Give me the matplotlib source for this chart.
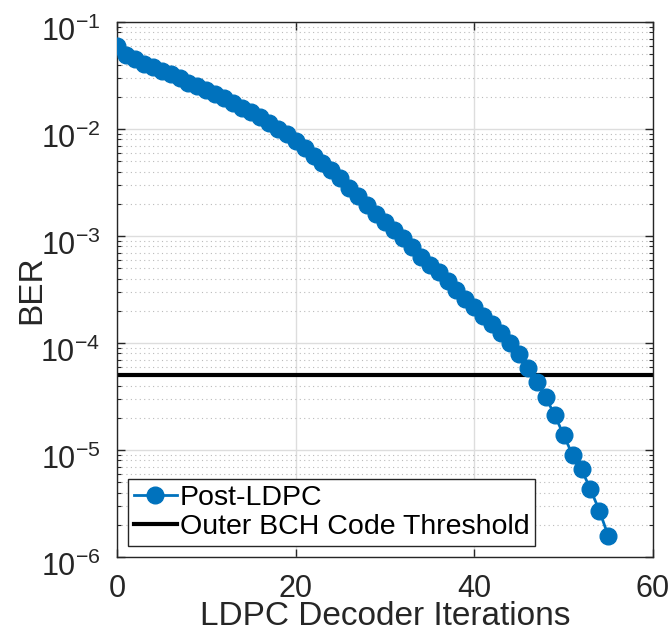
import numpy as np
import matplotlib
matplotlib.use("Agg")
import matplotlib.pyplot as plt
import matplotlib.transforms as mtransforms
from matplotlib.ticker import LogLocator, NullFormatter, MultipleLocator

plt.rcParams['font.family'] = ['Liberation Sans', 'DejaVu Sans']
plt.rcParams['mathtext.fontset'] = 'custom'
plt.rcParams['mathtext.rm'] = 'Liberation Sans'

iterations = list(range(56))
ber_post_ldpc = [
    0.060, 0.049, 0.0448, 0.0405, 0.0378, 0.0351, 0.0324, 0.0298, 0.0271, 0.0252,
    0.0231, 0.0212, 0.0194, 0.0174, 0.0156, 0.0143, 0.0129, 0.0115, 0.0101, 0.0090,
    0.0078, 0.0066, 0.0056, 0.00482, 0.00410, 0.00346, 0.00283, 0.00237, 0.00195, 0.00161,
    0.00136, 0.00114, 0.00095, 0.00079, 0.00064, 0.00054, 0.00046, 0.00038, 0.00031, 0.00026,
    0.000215, 0.000180, 0.000149, 0.000125, 9.9e-5, 7.9e-5, 5.8e-5, 4.35e-5, 3.1e-5, 2.12e-5,
    1.38e-5, 8.98e-6, 6.6e-6, 4.3e-6, 2.71e-6, 1.57e-6,
]
threshold = 5e-5
yticks = [1e-6, 1e-5, 1e-4, 1e-3, 1e-2, 1e-1]
series_label = "Post-LDPC"
threshold_label = "Outer BCH Code Threshold"
xlabel = "LDPC Decoder Iterations"
ylabel = "BER"

fig = plt.figure(figsize=(6.70, 6.43), dpi=100)
ax = fig.add_axes([0.1746, 0.1337, 0.8, 0.8321])

ax.plot(iterations, ber_post_ldpc, '-o', color='#0072BD', lw=2, ms=12,
        markerfacecolor='#0072BD', markeredgecolor='#0072BD', label=series_label, zorder=3)
ax.axhline(threshold, color='black', lw=3, label=threshold_label, zorder=2)

ax.set_yscale('log')
ax.set_xlim(0, 60)
ax.set_ylim(1e-6, 1e-1)
ax.xaxis.set_major_locator(MultipleLocator(20))
ax.set_yticks(yticks)
ax.yaxis.set_minor_locator(LogLocator(base=10, subs=np.arange(2, 10), numticks=20))
ax.yaxis.set_minor_formatter(NullFormatter())

ax.grid(True, which='major', color='#dddddd', lw=1, ls='-')
ax.grid(True, which='minor', axis='y', color='#bbbbbb', lw=0.8, ls=(0, (1, 3)))
ax.set_axisbelow(True)

ax.tick_params(which='both', direction='in', top=True, right=True, colors='#262626',
               labelcolor='#262626')
ax.tick_params(which='major', length=6, width=1, labelsize=22)
ax.tick_params(axis='y', which='major', pad=12)
ax.tick_params(axis='x', which='major', pad=12)
ax.tick_params(which='minor', length=3, width=0.8)
for s in ax.spines.values():
    s.set_color('#262626')
    s.set_linewidth(1)

offset = mtransforms.ScaledTranslation(0, -7 / 100, fig.dpi_scale_trans)
for t in ax.yaxis.get_major_ticks():
    t.label1.set_transform(t.label1.get_transform() + offset)

ax.set_xlabel(xlabel, fontsize=24, color='#262626', labelpad=-2)
ax.set_ylabel(ylabel, fontsize=24, color='#262626', labelpad=-5)

leg = ax.legend(loc='lower left', fontsize=20.5, frameon=True, fancybox=False,
                edgecolor='#262626', framealpha=1, borderpad=0.2, handlelength=1.5,
                handletextpad=0.1, labelspacing=0.1, borderaxespad=0.4)
leg.get_frame().set_linewidth(1)

fig.savefig('out.png', dpi=100)
